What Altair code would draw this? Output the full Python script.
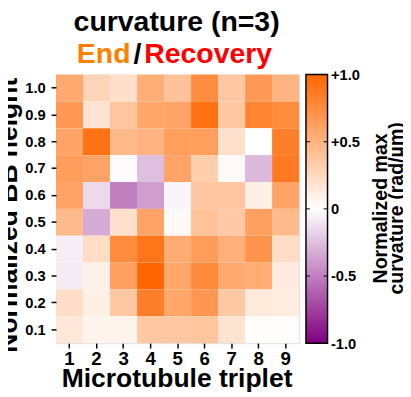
import altair as alt
import pandas as pd

# ---- data ----
triplets = [1, 2, 3, 4, 5, 6, 7, 8, 9]
heights = ["1.0", "0.9", "0.8", "0.7", "0.6", "0.5", "0.4", "0.3", "0.2", "0.1"]

row_10 = [0.56, 0.28, 0.20, 0.53, 0.39, 0.75, 0.36, 0.67, 0.49]
row_09 = [0.67, 0.18, 0.38, 0.58, 0.60, 0.93, 0.36, 0.80, 0.76]
row_08 = [0.60, 0.92, 0.45, 0.50, 0.63, 0.63, 0.20, 0.00, 0.84]
row_07 = [0.64, 0.60, -0.02, -0.25, 0.60, 0.32, 0.03, -0.27, 0.87]
row_06 = [0.60, -0.15, -0.50, -0.38, -0.04, 0.37, 0.37, 0.10, 0.60]
row_05 = [0.45, -0.33, 0.20, 0.60, 0.03, 0.40, 0.35, 0.62, 0.45]
row_04 = [-0.07, 0.22, 0.76, 0.90, 0.55, 0.65, 0.52, 0.70, 0.22]
row_03 = [-0.08, 0.09, 0.62, 1.00, 0.58, 0.77, 0.56, 0.54, 0.13]
row_02 = [0.22, 0.10, 0.36, 0.84, 0.58, 0.68, 0.35, 0.14, 0.12]
row_01 = [0.15, 0.07, 0.07, 0.36, 0.36, 0.38, 0.18, 0.01, 0.01]

rows = [row_10, row_09, row_08, row_07, row_06, row_05, row_04, row_03, row_02, row_01]

color_domain = [-1, 0, 1]
color_range = ["#800080", "#ffffff", "#ff6600"]

cbar_ticks = [1, 0.5, 0, -0.5, -1]
cbar_labels = ["+1.0", "+0.5", "0", "-0.5", "-1.0"]
cbar_inner_ticks = [0.5, 0, -0.5]

title_line = "curvature (n=3)"
title_parts = ["End", "/", "Recovery"]
title_colors = ["#ff7f00", "#000000", "#ff0000"]

FONT = "Liberation Sans"

records = []
for h, vals in zip(heights, rows):
    for t, v in zip(triplets, vals):
        records.append({"triplet": t, "height": h, "value": v})
df = pd.DataFrame(records)

heat = alt.Chart(df).mark_rect().encode(
    x=alt.X("triplet:O", sort=triplets,
            scale=alt.Scale(paddingInner=0, paddingOuter=0),
            axis=alt.Axis(title="Microtubule triplet", labelAngle=0, labelFontSize=19,
                          labelFontWeight="bold", labelFont=FONT, labelColor="black",
                          tickSize=5, tickWidth=1.5, tickColor="black", labelPadding=2,
                          domain=False, titleFontSize=27, titleFontWeight="bold",
                          titleFont=FONT, titleColor="black", titleX=123, titleY=44,
                          titleBaseline="alphabetic", titleAlign="center")),
    y=alt.Y("height:O", sort=heights,
            scale=alt.Scale(paddingInner=0, paddingOuter=0),
            axis=alt.Axis(title="Normalized BB height", labelFontSize=15,
                          labelFontWeight="bold", labelFont=FONT, labelColor="black",
                          tickSize=5, tickWidth=1.5, tickColor="black", labelPadding=6,
                          domain=False, titleFontSize=27, titleFontWeight="bold",
                          titleFont=FONT, titleColor="black", titleAngle=270,
                          titleX=-40, titleY=143, titleAlign="center",
                          titleBaseline="alphabetic")),
    color=alt.Color("value:Q", scale=alt.Scale(domain=color_domain, range=color_range,
                                               interpolate="rgb"), legend=None),
)

label_expr = " : ".join(
    f"datum.value == {v} ? '{l}'" for v, l in zip(cbar_ticks, cbar_labels)
) + " : ''"

cbar_axis = alt.Axis(orient="right", offset=29, values=cbar_ticks,
                     labelExpr=label_expr, tickSize=0, domain=False,
                     grid=False, labelPadding=3, labelFontSize=15,
                     labelFontWeight="bold", labelFont=FONT, labelColor="black",
                     title=["Normalized max", "curvature (rad/µm)"],
                     titleFontSize=20, titleFontWeight="bold", titleFont=FONT,
                     titleColor="black", titleAngle=270, titleX=60, titleY=136,
                     titleAlign="center", titleBaseline="alphabetic",
                     titleLineHeight=16)
cbar_scale = alt.Scale(domain=[-1, 1], nice=False)

cbar_df = pd.DataFrame({"v": [-1], "v2": [1]})
cbar_rect = alt.Chart(cbar_df).mark_rect(
    stroke="black", strokeWidth=1.5,
    fill=alt.Gradient(gradient="linear",
                      stops=[alt.GradientStop(color=color_range[0], offset=0),
                             alt.GradientStop(color=color_range[1], offset=0.5),
                             alt.GradientStop(color=color_range[2], offset=1)],
                      x1=0, x2=0, y1=1, y2=0),
).encode(
    x=alt.value(255), x2=alt.value(277),
    y=alt.Y("v:Q", scale=cbar_scale, axis=cbar_axis),
    y2="v2:Q",
)

ticks_df = pd.DataFrame({"v": cbar_inner_ticks})
ticks_left = alt.Chart(ticks_df).mark_rule(color="black", strokeWidth=1).encode(
    y=alt.Y("v:Q", scale=cbar_scale, axis=cbar_axis), x=alt.value(255), x2=alt.value(259))
ticks_right = alt.Chart(ticks_df).mark_rule(color="black", strokeWidth=1).encode(
    y=alt.Y("v:Q", scale=cbar_scale, axis=cbar_axis), x=alt.value(273), x2=alt.value(277))

cbar = alt.layer(cbar_rect, ticks_left, ticks_right)

def title_text(txt, color, x, y, align):
    return alt.Chart(pd.DataFrame({"t": [txt]})).mark_text(
        font=FONT, fontSize=29, fontWeight="bold", color=color,
        align=align, baseline="alphabetic",
    ).encode(text="t:N", x=alt.value(x), y=alt.value(y))

t0 = title_text(title_line, "black", 123, -44, "center")
t1 = title_text(title_parts[0], title_colors[0], 76, -12, "right")
t2 = title_text(title_parts[1], title_colors[1], 83, -12, "center")
t3 = title_text(title_parts[2], title_colors[2], 90, -12, "left")

chart = alt.layer(heat, cbar, t0, t1, t2, t3).resolve_scale(
    y="independent"
).properties(
    width=248, height=274,
    autosize=alt.AutoSizeParams(type="none"),
    padding={"left": 49, "top": 64, "right": 106, "bottom": 50},
).configure_view(
    stroke="black", strokeWidth=1.5
).configure(background="white")

chart.save("out.html", embed_options={"renderer": "svg", "actions": False})
